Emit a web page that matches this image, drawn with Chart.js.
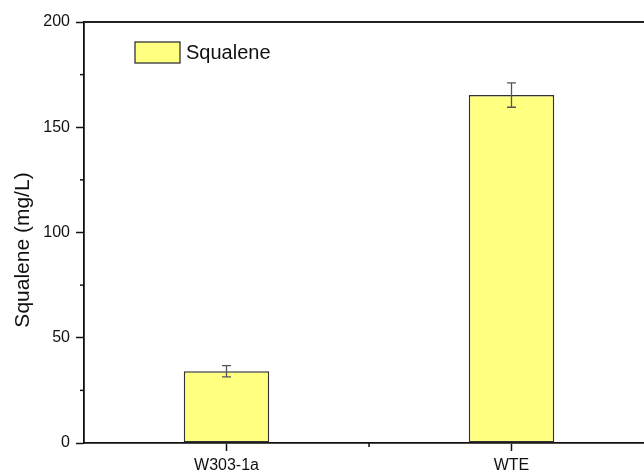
<!DOCTYPE html>
<html>
<head>
<meta charset="utf-8">
<script src="https://cdn.jsdelivr.net/npm/chart.js@4/dist/chart.umd.min.js"></script>
<style>
  html, body { margin: 0; padding: 0; background: #fff; overflow: hidden; }
  #wrap { width: 680px; height: 471px; }
</style>
</head>
<body>
<div id="wrap"><canvas id="c" width="680" height="471"></canvas></div>
<script>
const categories = ["W303-1a", "WTE"];
const squalene = [34.1, 165.3];
const squaleneErr = [2.7, 5.8];
const yTicks = [0, 50, 100, 150, 200];
const yMinorTicks = [25, 75, 125, 175];
const seriesName = "Squalene";
const yTitle = "Squalene (mg/L)";

const FONT = "'Liberation Sans', Arial, sans-serif";

const decorPlugin = {
  id: 'decor',
  afterDatasetsDraw(chart) {
    const ctx = chart.ctx;
    const x = chart.scales.x, y = chart.scales.y;
    const area = chart.chartArea;
    ctx.save();
    // error bars
    ctx.strokeStyle = '#555';
    ctx.lineWidth = 1.3;
    squalene.forEach((v, i) => {
      const px = x.getPixelForValue(i);
      const top = y.getPixelForValue(v + squaleneErr[i]);
      const bot = y.getPixelForValue(v - squaleneErr[i]);
      ctx.beginPath();
      ctx.moveTo(px, top); ctx.lineTo(px, bot);
      ctx.moveTo(px - 4.5, top); ctx.lineTo(px + 4.5, top);
      ctx.moveTo(px - 4.5, bot); ctx.lineTo(px + 4.5, bot);
      ctx.stroke();
    });
    // top frame line
    ctx.strokeStyle = '#222';
    ctx.lineWidth = 1.8;
    ctx.beginPath();
    ctx.moveTo(area.left, area.top);
    ctx.lineTo(chart.width, area.top);
    ctx.stroke();
    // minor ticks on y
    ctx.lineWidth = 1.5;
    ctx.strokeStyle = '#111';
    yMinorTicks.forEach(t => {
      const py = y.getPixelForValue(t);
      ctx.beginPath();
      ctx.moveTo(area.left - 4, py); ctx.lineTo(area.left, py);
      ctx.stroke();
    });
    // minor ticks on x (between categories)
    for (let i = 0; i < categories.length - 1; i++) {
      const px = (x.getPixelForValue(i) + x.getPixelForValue(i + 1)) / 2;
      ctx.beginPath();
      ctx.moveTo(px, area.bottom); ctx.lineTo(px, area.bottom + 4);
      ctx.stroke();
    }
    // y axis title
    ctx.save();
    ctx.translate(23, 250);
    ctx.rotate(-Math.PI / 2);
    ctx.fillStyle = '#111';
    ctx.font = "21px " + FONT;
    ctx.textAlign = 'center';
    ctx.textBaseline = 'middle';
    ctx.fillText(yTitle, 0, 0);
    ctx.restore();
    // legend
    const lx = 135, ly = 42, lw = 45, lh = 21;
    ctx.fillStyle = '#FFFF80';
    ctx.fillRect(lx, ly, lw, lh);
    ctx.strokeStyle = '#333';
    ctx.lineWidth = 1.3;
    ctx.strokeRect(lx, ly, lw, lh);
    ctx.fillStyle = '#111';
    ctx.font = "20px " + FONT;
    ctx.textAlign = 'left';
    ctx.textBaseline = 'middle';
    ctx.fillText(seriesName, lx + lw + 6, ly + lh / 2 + 1);
    ctx.restore();
  }
};

new Chart(document.getElementById('c'), {
  type: 'bar',
  data: {
    labels: categories,
    datasets: [{
      label: seriesName,
      data: squalene,
      backgroundColor: '#FFFF80',
      borderColor: '#333',
      borderWidth: 1.5,
      borderSkipped: false,
      barPercentage: 0.3,
      categoryPercentage: 1.0
    }]
  },
  options: {
    responsive: false,
    animation: false,
    layout: { padding: { top: 22, right: 26, left: 0, bottom: 0 } },
    plugins: { legend: { display: false }, tooltip: { enabled: false } },
    scales: {
      x: {
        offset: true,
        grid: { display: true, drawOnChartArea: false, offset: false, tickLength: 8, tickWidth: 1.5, tickColor: '#111' },
        border: { display: true, color: '#111', width: 1.8 },
        ticks: { color: '#111', font: { family: FONT, size: 16 }, padding: 5 },
        afterFit(s) { s.height = 28; }
      },
      y: {
        min: 0, max: 200,
        afterBuildTicks(s) { s.ticks = yTicks.map(v => ({ value: v })); },
        grid: { display: true, drawOnChartArea: false, tickLength: 8, tickWidth: 1.5, tickColor: '#111' },
        border: { display: true, color: '#111', width: 1.8 },
        ticks: { color: '#111', font: { family: FONT, size: 16 }, padding: 6 },
        title: { display: false },
        afterFit(s) { s.width = 84; }
      }
    }
  },
  plugins: [decorPlugin]
});
</script>
</body>
</html>
